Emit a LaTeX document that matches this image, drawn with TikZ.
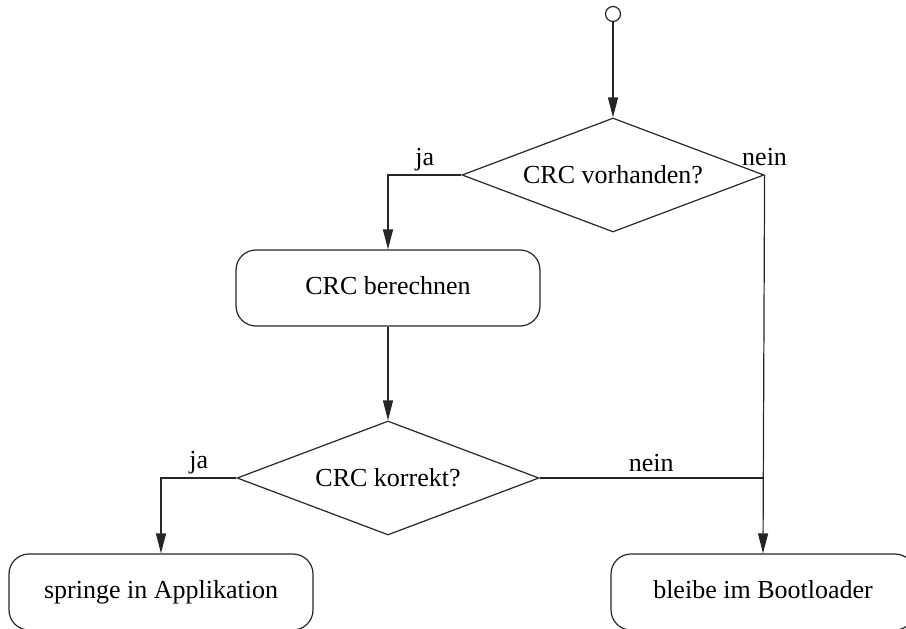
\documentclass[tikz,border=0pt]{standalone}
\usepackage{fontspec}
\setmainfont{Liberation Serif}
\usetikzlibrary{arrows.meta,shapes.geometric}
\tikzset{
  flow/.style={line width=1.2pt, draw=black!85},
  arr/.style={flow, -{Triangle[length=20pt,width=10pt]}},
  action/.style={flow, rectangle, rounded corners=20pt, minimum width=304pt,
    minimum height=76pt, inner sep=0pt, text height=18pt, text depth=5pt,
    font=\fontsize{26}{30}\selectfont},
  decision/.style={flow, diamond, aspect=2.65, minimum width=302pt,
    minimum height=114pt, inner sep=0pt, font=\fontsize{26}{30}\selectfont},
  lbl/.style={font=\fontsize{26}{30}\selectfont, inner sep=3pt},
  startpt/.style={flow, circle, minimum size=15pt, inner sep=0pt, fill=white}
}
\begin{document}
\begin{tikzpicture}[x=1pt, y=-1pt]
  \clip (0,0) rectangle (906,629);
  \useasboundingbox (0,0) rectangle (906,629);

  \node[startpt] (start) at (613,14) {};
  \node[decision] (check) at (613,175) {CRC vorhanden?};
  \node[action] (calc) at (388,288) {CRC berechnen};
  \node[decision] (ok) at (388,478) {CRC korrekt?};
  \node[action] (app) at (161,592) {springe in Applikation};
  \node[action] (boot) at (763,592) {bleibe im Bootloader};

  \draw[arr] (start) -- (check);
  \draw[arr] (check.west) -| node[lbl, above, pos=0.25] {ja} (calc.north);
  \draw[arr] (check.east) -- (boot.north);
  \node[lbl, above, yshift=6pt] (neinA) at (check.east) {nein};
  \draw[arr] (calc) -- (ok);
  \draw[arr] (ok.west) -| node[lbl, above, pos=0.25] {ja} (app.north);
  \draw[flow] (ok.east) -- node[lbl, above, yshift=3pt] {nein} (ok.east -| boot.north);
\end{tikzpicture}
\end{document}
